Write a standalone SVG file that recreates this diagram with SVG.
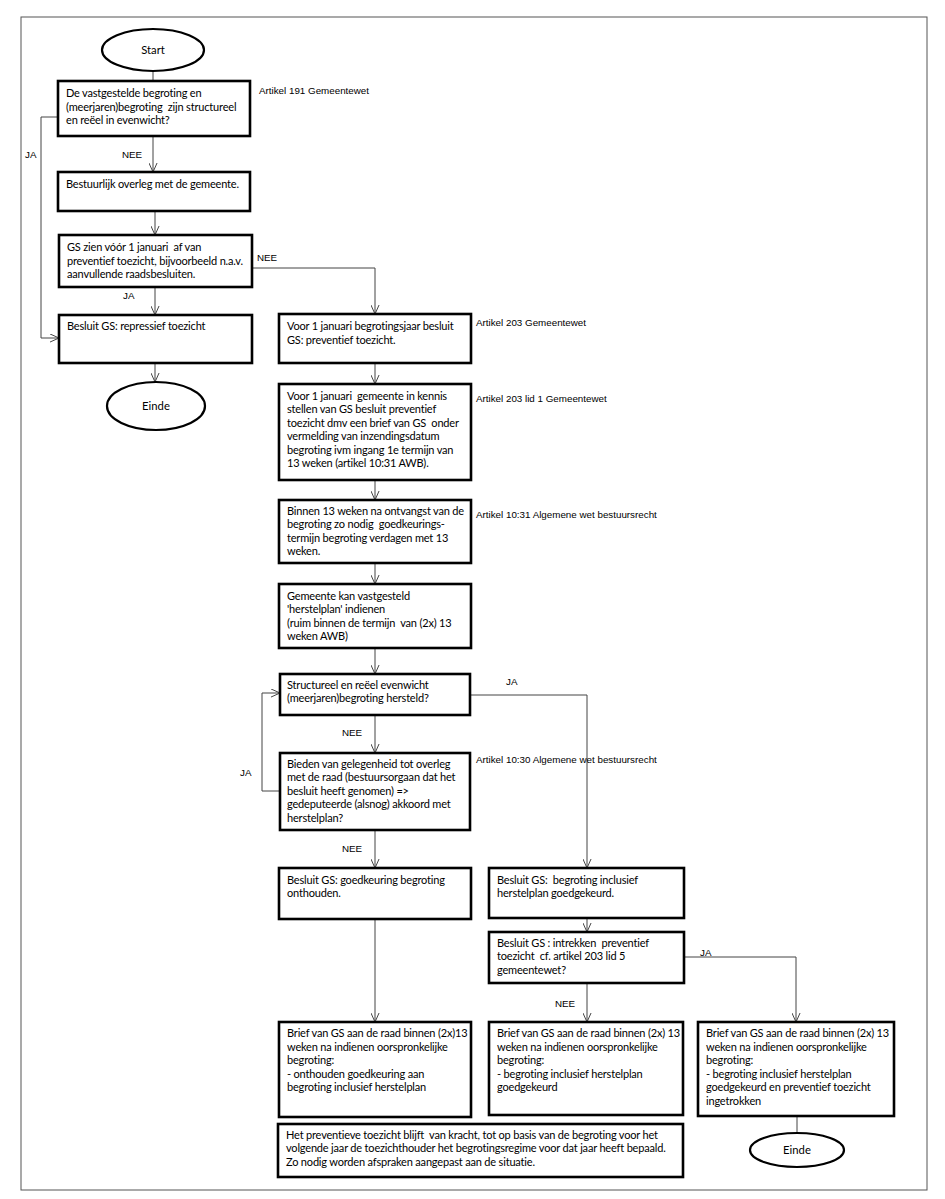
<svg xmlns="http://www.w3.org/2000/svg" width="945" height="1199" viewBox="0 0 945 1199">
<style>
.frame{fill:none;stroke:#555;stroke-width:1}
.box{fill:#fff;stroke:#000;stroke-width:2.6}
.ell{fill:#fff;stroke:#000;stroke-width:2.2}
.t{font-family:Lato,"Liberation Sans",sans-serif;font-size:11px;letter-spacing:-0.18px;fill:#000;white-space:pre}
.tc{font-family:Lato,"Liberation Sans",sans-serif;font-size:11.3px;fill:#000;text-anchor:middle}
.lab{font-family:"Liberation Sans",Arial,sans-serif;font-size:9.8px;fill:#000;white-space:pre}
.con{fill:none;stroke:#444;stroke-width:1}
</style>
<defs>
<marker id="arr" viewBox="0 0 10 10" refX="10" refY="5" markerWidth="9" markerHeight="9" markerUnits="userSpaceOnUse" orient="auto">
<path d="M0,0.5 L10,5 L0,9.5" fill="none" stroke="#444" stroke-width="1.1"/>
</marker>
</defs>
<rect class="frame" x="21" y="17" width="906" height="1173"/>

<g id="connectors">
<path class="con" d="M153,71 V81"/>
<path class="con" d="M153,136 V172" marker-end="url(#arr)"/>
<path class="con" d="M58,117 H41 V338 H59" marker-end="url(#arr)"/>
<path class="con" d="M155,211 V235" marker-end="url(#arr)"/>
<path class="con" d="M155,287 V315" marker-end="url(#arr)"/>
<path class="con" d="M155,363 V382" marker-end="url(#arr)"/>
<path class="con" d="M252,268 H375 V314" marker-end="url(#arr)"/>
<path class="con" d="M375,363 V384" marker-end="url(#arr)"/>
<path class="con" d="M375,480 V500" marker-end="url(#arr)"/>
<path class="con" d="M375,563 V584" marker-end="url(#arr)"/>
<path class="con" d="M375,648 V674" marker-end="url(#arr)"/>
<path class="con" d="M470,695 H587 V868" marker-end="url(#arr)"/>
<path class="con" d="M375,715 V753" marker-end="url(#arr)"/>
<path class="con" d="M280,791 H262 V693 H280" marker-end="url(#arr)"/>
<path class="con" d="M375,830 V868" marker-end="url(#arr)"/>
<path class="con" d="M375,919 V1022" marker-end="url(#arr)"/>
<path class="con" d="M587,918 V932" marker-end="url(#arr)"/>
<path class="con" d="M684,957 H796 V1022" marker-end="url(#arr)"/>
<path class="con" d="M587,983 V1022" marker-end="url(#arr)"/>
<path class="con" d="M797,1116 V1133"/>
</g>

<g id="labels">
<text class="lab" x="25" y="158">JA</text>
<text class="lab" x="122" y="158">NEE</text>
<text class="lab" x="257" y="261">NEE</text>
<text class="lab" x="123" y="299">JA</text>
<text class="lab" x="506" y="685">JA</text>
<text class="lab" x="240" y="776">JA</text>
<text class="lab" x="342" y="736">NEE</text>
<text class="lab" x="342" y="852">NEE</text>
<text class="lab" x="555" y="1007">NEE</text>
<text class="lab" x="700" y="956">JA</text>
<text class="lab" x="259" y="94">Artikel 191 Gemeentewet</text>
<text class="lab" x="476" y="326">Artikel 203 Gemeentewet</text>
<text class="lab" x="476" y="402">Artikel 203 lid 1 Gemeentewet</text>
<text class="lab" x="476" y="518">Artikel 10:31 Algemene wet bestuursrecht</text>
<text class="lab" x="476" y="763">Artikel 10:30 Algemene wet bestuursrecht</text>
</g>

<g id="start">
<ellipse class="ell" cx="153" cy="50" rx="51" ry="21"/>
<text class="tc" x="153" y="54">Start</text>
</g>

<g id="n1">
<rect class="box" x="58" y="81" width="192" height="55"/>
<text class="t" y="97"><tspan x="66">De vastgestelde begroting en</tspan><tspan x="66" dy="13.6">(meerjaren)begroting  zijn structureel</tspan><tspan x="66" dy="13.6">en reëel in evenwicht?</tspan></text>
</g>

<g id="n2">
<rect class="box" x="58" y="172" width="192" height="39"/>
<text class="t" y="188"><tspan x="66">Bestuurlijk overleg met de gemeente.</tspan></text>
</g>

<g id="n3">
<rect class="box" x="59" y="235" width="193" height="52"/>
<text class="t" y="251"><tspan x="67">GS zien vóór 1 januari  af van</tspan><tspan x="67" dy="13.6">preventief toezicht, bijvoorbeeld n.a.v.</tspan><tspan x="67" dy="13.6">aanvullende raadsbesluiten.</tspan></text>
</g>

<g id="n4">
<rect class="box" x="59" y="315" width="193" height="48"/>
<text class="t" y="330"><tspan x="67">Besluit GS: repressief toezicht</tspan></text>
</g>

<g id="einde1">
<ellipse class="ell" cx="156" cy="406" rx="49" ry="24"/>
<text class="tc" x="156" y="410">Einde</text>
</g>

<g id="n5">
<rect class="box" x="279" y="314" width="192" height="49"/>
<text class="t" y="330"><tspan x="287">Voor 1 januari begrotingsjaar besluit</tspan><tspan x="287" dy="13.6">GS: preventief toezicht.</tspan></text>
</g>

<g id="n6">
<rect class="box" x="279" y="384" width="192" height="96"/>
<text class="t" y="400"><tspan x="287">Voor 1 januari  gemeente in kennis</tspan><tspan x="287" dy="13.4">stellen van GS besluit preventief</tspan><tspan x="287" dy="13.4">toezicht dmv een brief van GS  onder</tspan><tspan x="287" dy="13.4">vermelding van inzendingsdatum</tspan><tspan x="287" dy="13.4">begroting ivm ingang 1e termijn van</tspan><tspan x="287" dy="13.4">13 weken (artikel 10:31 AWB).</tspan></text>
</g>

<g id="n7">
<rect class="box" x="279" y="500" width="192" height="63"/>
<text class="t" y="515"><tspan x="287">Binnen 13 weken na ontvangst van de</tspan><tspan x="287" dy="13.4">begroting zo nodig  goedkeurings-</tspan><tspan x="287" dy="13.4">termijn begroting verdagen met 13</tspan><tspan x="287" dy="13.4">weken.</tspan></text>
</g>

<g id="n8">
<rect class="box" x="279" y="584" width="192" height="64"/>
<text class="t" y="600"><tspan x="287">Gemeente kan vastgesteld</tspan><tspan x="287" dy="13.4">'herstelplan' indienen</tspan><tspan x="287" dy="13.4">(ruim binnen de termijn  van (2x) 13</tspan><tspan x="287" dy="13.4">weken AWB)</tspan></text>
</g>

<g id="n9">
<rect class="box" x="280" y="674" width="190" height="41"/>
<text class="t" y="689"><tspan x="287">Structureel en reëel evenwicht</tspan><tspan x="287" dy="13.4">(meerjaren)begroting hersteld?</tspan></text>
</g>

<g id="n10">
<rect class="box" x="280" y="753" width="190" height="77"/>
<text class="t" y="768"><tspan x="287">Bieden van gelegenheid tot overleg</tspan><tspan x="287" dy="13.4">met de raad (bestuursorgaan dat het</tspan><tspan x="287" dy="13.4">besluit heeft genomen) =&gt;</tspan><tspan x="287" dy="13.4">gedeputeerde (alsnog) akkoord met</tspan><tspan x="287" dy="13.4">herstelplan?</tspan></text>
</g>

<g id="n11">
<rect class="box" x="279" y="868" width="192" height="51"/>
<text class="t" y="884"><tspan x="287">Besluit GS: goedkeuring begroting</tspan><tspan x="287" dy="13.4">onthouden.</tspan></text>
</g>

<g id="n12">
<rect class="box" x="489" y="868" width="195" height="50"/>
<text class="t" y="884"><tspan x="497">Besluit GS:  begroting inclusief</tspan><tspan x="497" dy="13.4">herstelplan goedgekeurd.</tspan></text>
</g>

<g id="n13">
<rect class="box" x="489" y="932" width="195" height="51"/>
<text class="t" y="947"><tspan x="497">Besluit GS : intrekken  preventief</tspan><tspan x="497" dy="13.4">toezicht  cf. artikel 203 lid 5</tspan><tspan x="497" dy="13.4">gemeentewet?</tspan></text>
</g>

<g id="n14">
<rect class="box" x="279" y="1022" width="192" height="95"/>
<text class="t" y="1037"><tspan x="287">Brief van GS aan de raad binnen (2x)13</tspan><tspan x="287" dy="13.6">weken na indienen oorspronkelijke</tspan><tspan x="287" dy="13.6">begroting:</tspan><tspan x="287" dy="13.6">- onthouden goedkeuring aan</tspan><tspan x="287" dy="13.6">begroting inclusief herstelplan</tspan></text>
</g>

<g id="n15">
<rect class="box" x="489" y="1022" width="194" height="93"/>
<text class="t" y="1037"><tspan x="497">Brief van GS aan de raad binnen (2x) 13</tspan><tspan x="497" dy="13.6">weken na indienen oorspronkelijke</tspan><tspan x="497" dy="13.6">begroting:</tspan><tspan x="497" dy="13.6">- begroting inclusief herstelplan</tspan><tspan x="497" dy="13.6">goedgekeurd</tspan></text>
</g>

<g id="n16">
<rect class="box" x="698" y="1022" width="196" height="94"/>
<text class="t" y="1037"><tspan x="706">Brief van GS aan de raad binnen (2x) 13</tspan><tspan x="706" dy="13.6">weken na indienen oorspronkelijke</tspan><tspan x="706" dy="13.6">begroting:</tspan><tspan x="706" dy="13.6">- begroting inclusief herstelplan</tspan><tspan x="706" dy="13.6">goedgekeurd en preventief toezicht</tspan><tspan x="706" dy="13.6">ingetrokken</tspan></text>
</g>

<g id="n17">
<rect class="box" x="278" y="1124" width="405" height="53"/>
<text class="t" y="1139"><tspan x="286">Het preventieve toezicht blijft  van kracht, tot op basis van de begroting voor het</tspan><tspan x="286" dy="13.4">volgende jaar de toezichthouder het begrotingsregime voor dat jaar heeft bepaald.</tspan><tspan x="286" dy="13.4">Zo nodig worden afspraken aangepast aan de situatie.</tspan></text>
</g>

<g id="einde2">
<ellipse class="ell" cx="797" cy="1150" rx="47" ry="17"/>
<text class="tc" x="797" y="1154">Einde</text>
</g>
</svg>
